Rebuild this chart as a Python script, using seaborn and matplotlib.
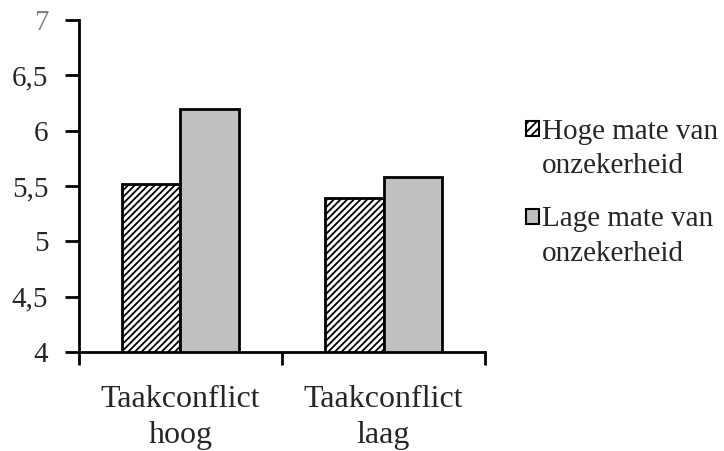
import matplotlib
matplotlib.use("Agg")
import matplotlib.pyplot as plt
import seaborn as sns
import pandas as pd
from matplotlib.patches import Patch, Rectangle
from matplotlib.legend_handler import HandlerPatch

categories = ["Taakconflict\nhoog", "Taakconflict\nlaag"]
series = ["Hoge mate van\nonzekerheid", "Lage mate van\nonzekerheid"]
hoge_values = [5.52, 5.39]
lage_values = [6.20, 5.58]
y_ticks = [4, 4.5, 5, 5.5, 6, 6.5, 7]
y_tick_labels = ["4", "4,5", "5", "5,5", "6", "6,5", "7"]

df = pd.DataFrame({
    "cat": categories * 2,
    "series": [series[0]] * 2 + [series[1]] * 2,
    "val": hoge_values + lage_values,
})

sns.set_style("white")
plt.rcParams["font.family"] = ["Liberation Serif", "DejaVu Serif"]
plt.rcParams["hatch.linewidth"] = 1.3

fig = plt.figure(figsize=(7.24, 4.51), dpi=100)
ax = fig.add_axes([0.109, 0.2195, 0.561, 0.7362])

colors = ["white", "#c0c0c0"]
sns.barplot(data=df, x="cat", y="val", hue="series", hue_order=series,
            order=categories, palette=colors, width=0.58, ax=ax,
            edgecolor="black", linewidth=2, legend=False, saturation=1)

for bar in ax.containers[0]:
    bar.set_hatch("/////")

ax.set_ylim(4, 7)
ax.set_xlim(-0.5, 1.5)
ax.set_yticks(y_ticks)
ax.set_yticklabels(y_tick_labels, fontsize=21)
ax.get_yticklabels()[-1].set_color("#808080")
ax.tick_params(axis="y", direction="out", length=10, width=2, color="black", left=True, pad=12)
ax.set_xticks([0, 1])
ax.set_xticklabels(categories, fontsize=23, linespacing=1.3)
ax.tick_params(axis="x", which="major", length=0, pad=24)
ax.set_xticks([-0.5, 0.5, 1.5], minor=True)
ax.tick_params(axis="x", which="minor", direction="out", length=9, width=2, color="black", bottom=True)
ax.set_xlabel("")
ax.set_ylabel("")

for s in ["top", "right"]:
    ax.spines[s].set_visible(False)
for s in ["left", "bottom"]:
    ax.spines[s].set_color("black")
    ax.spines[s].set_linewidth(2)


def raised_square(legend, orig_handle, xdescent, ydescent, width, height, fontsize):
    return Rectangle((-xdescent, -ydescent + 0.68 * fontsize), width, height)


handles = [Patch(facecolor="white", edgecolor="black", hatch="////", linewidth=1.5),
           Patch(facecolor="#c0c0c0", edgecolor="black", linewidth=1.5)]
leg = fig.legend(handles, series, loc="upper left", bbox_to_anchor=(0.727, 0.737),
                 frameon=False, fontsize=21, handlelength=0.42, handleheight=0.42,
                 handletextpad=0.12, labelspacing=0.94, borderpad=0, borderaxespad=0,
                 handler_map={Patch: HandlerPatch(patch_func=raised_square)})
for t in leg.get_texts():
    t.set_linespacing(1.42)

fig.savefig("out.png", dpi=100)
